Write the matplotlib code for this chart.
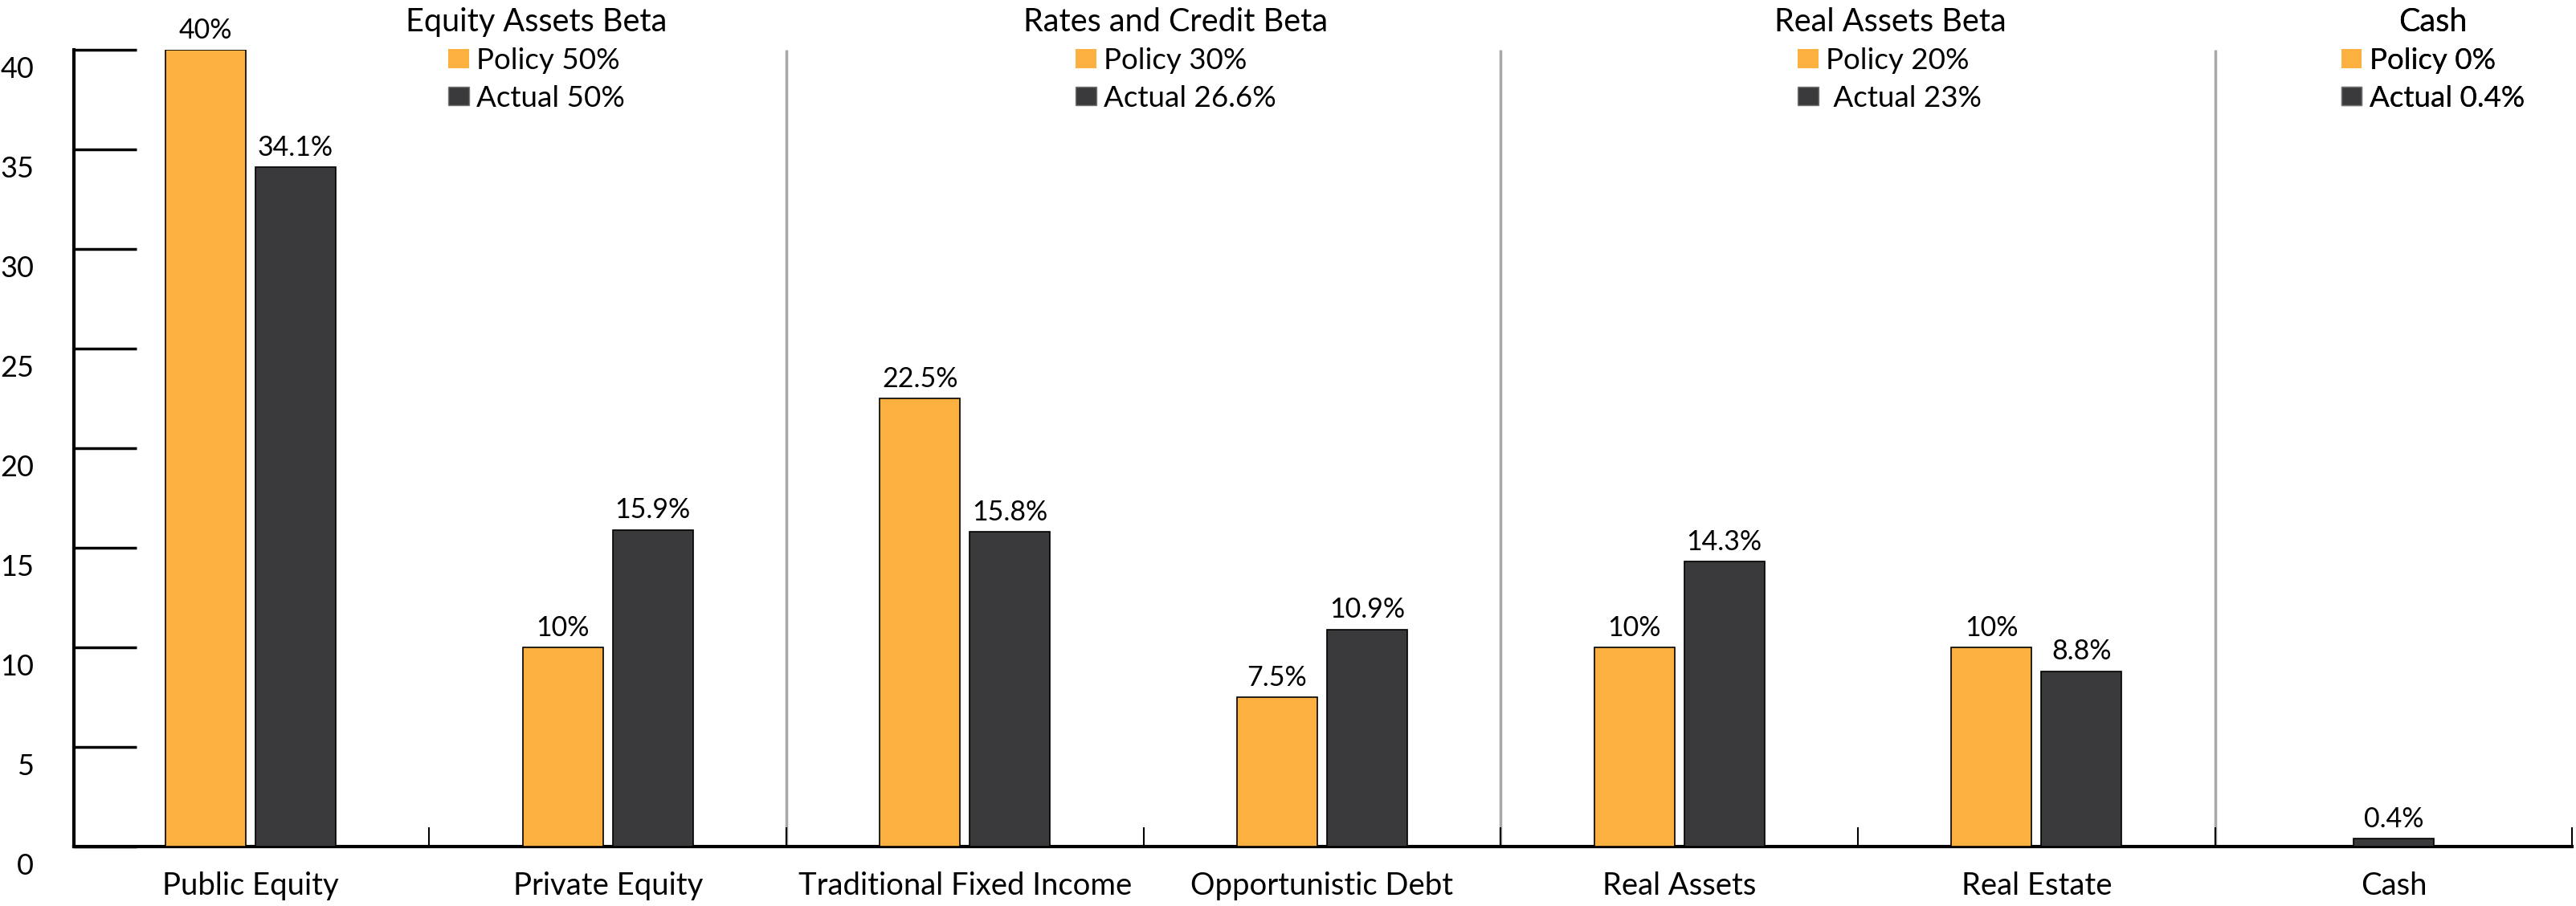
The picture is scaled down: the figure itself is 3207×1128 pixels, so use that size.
import numpy as np
import matplotlib.pyplot as plt
from matplotlib.patches import Patch
from matplotlib.transforms import ScaledTranslation, blended_transform_factory

plt.rcParams['font.family'] = ['Lato', 'DejaVu Sans']

# ==== DATA ===================================================
categories = ["Public Equity", "Private Equity", "Traditional Fixed Income",
              "Opportunistic Debt", "Real Assets", "Real Estate", "Cash"]
policy = [40, 10, 22.5, 7.5, 10, 10, 0]
actual = [34.1, 15.9, 15.8, 10.9, 14.3, 8.8, 0.4]

groups = ["Equity Assets Beta", "Rates and Credit Beta", "Real Assets Beta", "Cash"]
group_policy = ["Policy 50%", "Policy 30%", "Policy 20%", "Policy 0%"]
group_actual = ["Actual 50%", "Actual 26.6%", " Actual 23%", "Actual 0.4%"]
dividers = [1.5, 3.5, 5.5]
legend_x = [0.80, 2.59, 4.59, 6.11]

orange = "#FBB040"
dark = "#3A3A3C"
# ============================================================

fig = plt.figure(figsize=(32.07, 11.28), dpi=100)
ax = fig.add_axes([0.0287, 0.0656, 0.9698, 0.8794])

x = np.arange(len(categories))
pol = np.array(policy)
has_pol = pol > 0
w = 0.225
off = 0.126
pol_x = x - off
act_x = np.where(has_pol, x + off, x)

ax.bar(pol_x[has_pol], pol[has_pol], w, color=orange, edgecolor='black', linewidth=1.2, zorder=3)
ax.bar(act_x, actual, w, color=dark, edgecolor='black', linewidth=1.2, zorder=3)

for xx, v in zip(pol_x[has_pol], pol[has_pol]):
    ax.annotate(f"{v:g}%", (xx, v), xytext=(0, 6), textcoords='offset points',
                ha='center', va='bottom', fontsize=24.5)
for xx, v in zip(act_x, actual):
    ax.annotate(f"{v:g}%", (xx, v), xytext=(0, 6), textcoords='offset points',
                ha='center', va='bottom', fontsize=24.5)

ax.vlines(dividers, 0, 40, color='#A8A8A8', linewidth=2.5, zorder=1)

ax.set_xlim(-0.495, 6.5)
ax.set_ylim(0, 40)
ax.set_yticks(range(0, 41, 5))
ax.tick_params(axis='y', direction='in', length=56, width=2.5, pad=36, labelsize=26)
for lbl in ax.get_yticklabels():
    lbl.set_transform(lbl.get_transform() + ScaledTranslation(0, -0.21, fig.dpi_scale_trans))

ax.set_xticks(x)
ax.set_xticklabels(categories)
ax.tick_params(axis='x', which='major', length=0, pad=22, labelsize=27.5)
ax.set_xticks(np.arange(0.5, 7, 1), minor=True)
ax.tick_params(axis='x', which='minor', direction='in', length=17, width=1.5)

for s in ['top', 'right']:
    ax.spines[s].set_visible(False)
for s in ['left', 'bottom']:
    ax.spines[s].set_linewidth(3)

trans = blended_transform_factory(ax.transData, fig.transFigure)
for i in range(len(groups)):
    handles = [Patch(facecolor=orange, edgecolor='none'),
               Patch(facecolor=dark, edgecolor='#777777')]
    leg = ax.legend(handles, [group_policy[i], group_actual[i]], title=groups[i],
                    loc='upper center', bbox_to_anchor=(legend_x[i], 0.992),
                    bbox_transform=trans, frameon=False, fontsize=26.5,
                    title_fontsize=28.5, handlelength=0.7, handleheight=0.62,
                    handletextpad=0.25, labelspacing=0.36, borderpad=0,
                    borderaxespad=0)
    ax.add_artist(leg)

fig.savefig("out.png", dpi=100)
